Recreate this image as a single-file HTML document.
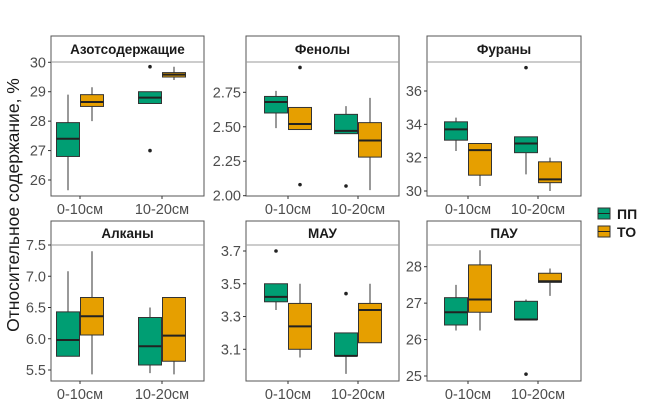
<!DOCTYPE html>
<html><head><meta charset="utf-8"><style>
body{margin:0;background:#fff;font-family:"Liberation Sans",sans-serif}
svg text{font-family:"Liberation Sans",sans-serif}
</style></head><body>
<svg id="c" width="650" height="405"></svg>
<script>
const panelTitles=["Азотсодержащие","Фенолы","Фураны","Алканы","МАУ","ПАУ"];
const categories=["0-10см","10-20см"];
const groups=["ПП","ТО"];
const colors=["#009e73","#e69f00"];
const tickLabels=[["26","27","28","29","30"],["2.00","2.25","2.50","2.75"],["30","32","34","36"],["5.5","6.0","6.5","7.0","7.5"],["3.1","3.3","3.5","3.7"],["25","26","27","28"]];
const tickValues=[[26,27,28,29,30],[2,2.25,2.5,2.75],[30,32,34,36],[5.5,6,6.5,7,7.5],[3.1,3.3,3.5,3.7],[25,26,27,28]];
// stats: [lo,q1,med,q3,hi]; order: [cat0 PP, cat0 TO, cat1 PP, cat1 TO]
const stats0=[[25.65,26.8,27.4,27.95,28.9],[28.0,28.5,28.65,28.9,29.15],[28.6,28.6,28.8,29.0,29.0],[29.4,29.5,29.58,29.65,29.85]];
const stats1=[[2.49,2.60,2.68,2.72,2.76],[2.48,2.48,2.52,2.64,2.64],[2.45,2.45,2.47,2.59,2.65],[2.04,2.28,2.40,2.53,2.71]];
const stats2=[[32.4,33.05,33.7,34.15,34.4],[30.3,30.95,32.45,32.85,32.85],[31.0,32.3,32.85,33.25,33.25],[30.0,30.5,30.7,31.75,32.0]];
const stats3=[[5.72,5.72,5.98,6.43,7.08],[5.43,6.06,6.36,6.66,7.4],[5.45,5.58,5.88,6.34,6.5],[5.43,5.64,6.05,6.66,6.66]];
const stats4=[[3.34,3.39,3.42,3.50,3.50],[3.05,3.10,3.24,3.38,3.50],[2.95,3.06,3.06,3.20,3.20],[3.14,3.14,3.34,3.38,3.50]];
const stats5=[[26.25,26.4,26.75,27.15,27.5],[26.25,26.75,27.1,28.05,28.45],[26.55,26.55,26.55,27.05,27.1],[27.2,27.57,27.6,27.82,27.95]];
const outliers0=[[],[],[29.85,27.0],[]];
const outliers1=[[],[2.93,2.08],[2.07],[]];
const outliers2=[[],[],[37.4],[]];
const outliers3=[[],[],[],[]];
const outliers4=[[3.70],[],[3.44],[]];
const outliers5=[[],[],[25.05],[]];
const allStats=[stats0,stats1,stats2,stats3,stats4,stats5];
const allOut=[outliers0,outliers1,outliers2,outliers3,outliers4,outliers5];

const NS="http://www.w3.org/2000/svg";
const svg=document.getElementById("c");
function mk(t,a,p){const e=document.createElementNS(NS,t);for(const k in a)e.setAttribute(k,a[k]);(p||svg).appendChild(e);return e;}
const layout=[[51,204,36,62,196],[246,399,36,62,196],[427,581,36,62,196],[51,204,221,245,381],[246,399,221,245,381],[427,581,221,245,381]];
const refs=[[26,180,30,62.3],[2.0,195.7,2.75,92.3],[30,191,36,91],[5.5,370,7.5,245],[3.1,349.3,3.7,251],[25,376,28,266.7]];
const xCenters=[[80,162],[288,358],[468,538],[80,162],[288,358],[468,538]];

for(let p=0;p<6;p++){
  const [L,R,T,S,B]=layout[p];
  const [v0,p0,v1,p1]=refs[p];
  const y=v=>p0+(v-v0)*(p1-p0)/(v1-v0);
  const x=(c,g)=>xCenters[p][c]+(g===0?-12:12);
  const g=mk("g",{});
  
  
  mk("rect",{x:L,y:T,width:R-L,height:B-T,fill:"#fff",stroke:"#555","stroke-width":1},g);
  mk("line",{x1:L,x2:R,y1:S,y2:S,stroke:"#999","stroke-width":1},g);
  const tt=mk("text",{x:(L+R)/2,y:(T+S)/2+5,"text-anchor":"middle","font-size":13.5,"font-weight":"bold",fill:"#1a1a1a"},g);
  tt.textContent=panelTitles[p];
  
  
  tickValues[p].forEach((v,i)=>{
    const yy=y(v);
    mk("line",{x1:L-3,x2:L,y1:yy,y2:yy,stroke:"#333"},g);
    const t=mk("text",{x:L-5,y:yy+5,"text-anchor":"end","font-size":14.5,fill:"#4d4d4d"},g);
    t.textContent=tickLabels[p][i];
    
    
  });
  categories.forEach((c,ci)=>{
    const xx=xCenters[p][ci];
    mk("line",{x1:xx,x2:xx,y1:B,y2:B+3,stroke:"#333"},g);
    const t=mk("text",{x:xx,y:B+18,"text-anchor":"middle","font-size":14.5,fill:"#4d4d4d"},g);
    t.textContent=c;
    
    
  });
  for(let k=0;k<4;k++){
    const ci=k>>1,gi=k&1;const s=allStats[p][k];const cx=x(ci,gi);
    const bg=mk("g",{},g);
    
    
    mk("line",{x1:cx,x2:cx,y1:y(s[0]),y2:y(s[4]),stroke:"#333","stroke-width":1},bg);
    mk("rect",{x:cx-11.5,y:y(s[3]),width:23,height:Math.max(1,y(s[1])-y(s[3])),fill:colors[gi],stroke:"#333","stroke-width":1},bg);
    mk("line",{x1:cx-11.5,x2:cx+11.5,y1:y(s[2]),y2:y(s[2]),stroke:"#222","stroke-width":2},bg);
    allOut[p][k].forEach(o=>{
      const d=mk("circle",{cx:cx,cy:y(o),r:1.8,fill:"#222"},bg);
      
      
    });
  }
}
const yt=mk("text",{x:19,y:205,"text-anchor":"middle","font-size":17.5,fill:"#1a1a1a",transform:"rotate(-90 19 205)"});
yt.textContent="Относительное содержание, %";


groups.forEach((gname,i)=>{
  const yy=208+i*18;
  const lg=mk("g",{});
  
  
  mk("rect",{x:598,y:yy,width:12,height:11,fill:colors[i],stroke:"#333"},lg);
  mk("line",{x1:598,x2:610,y1:yy+5.5,y2:yy+5.5,stroke:"#222"},lg);
  const t=mk("text",{x:617,y:yy+11,"font-size":14,"font-weight":"bold",fill:"#1a1a1a"},lg);
  t.textContent=gname;
});
</script>
</body></html>
